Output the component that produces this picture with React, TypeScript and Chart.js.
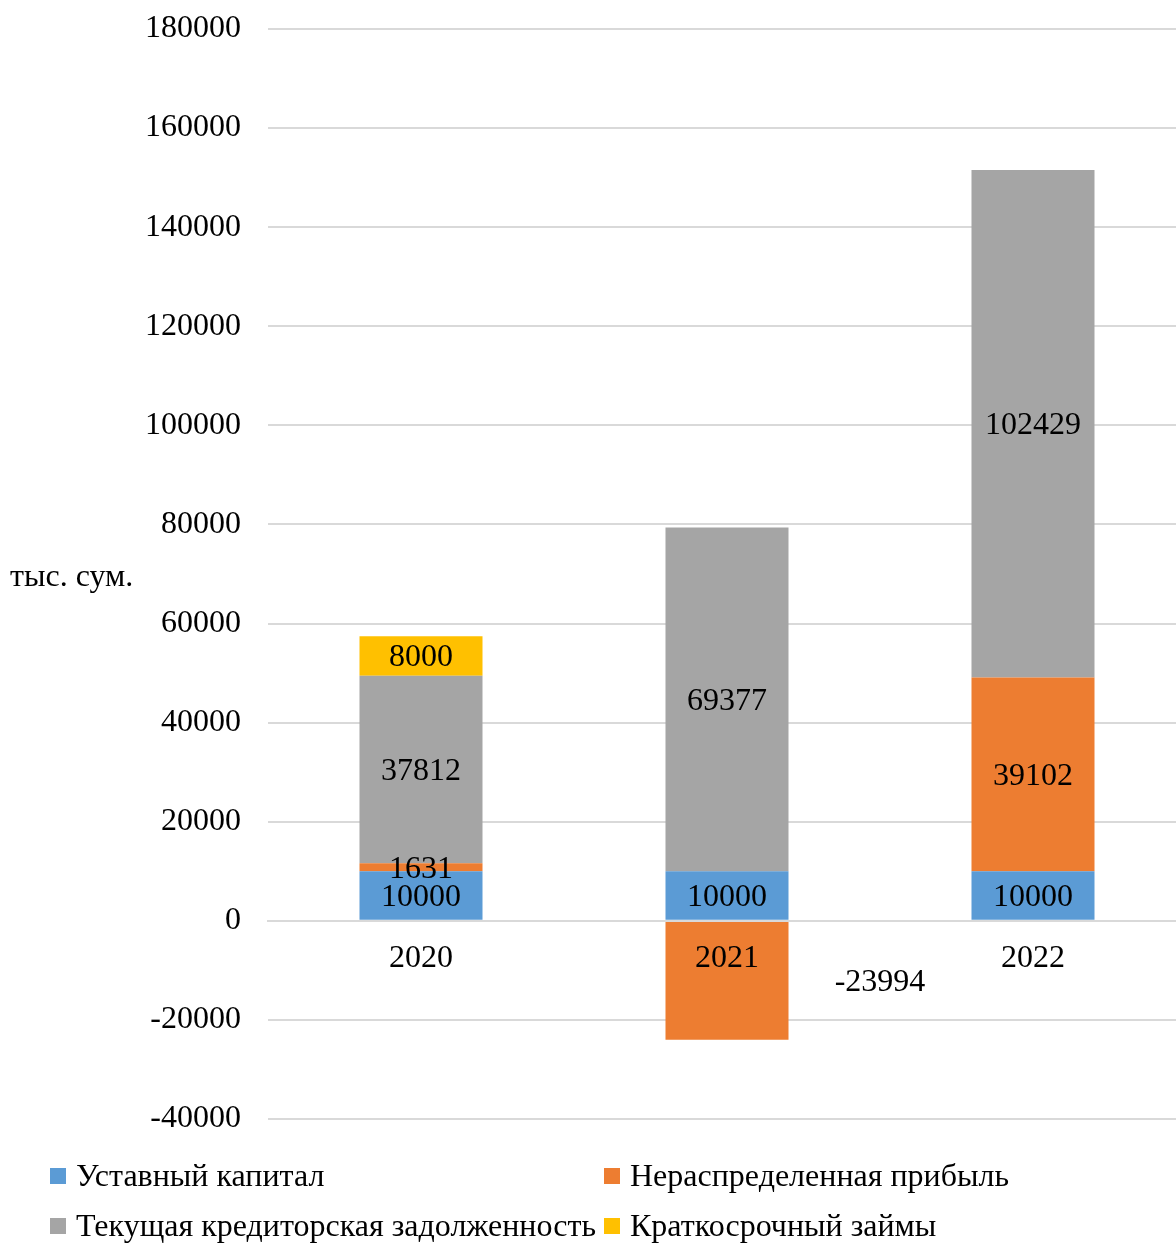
import React, { useEffect, useRef } from 'react';
import { Chart, registerables } from 'chart.js';

Chart.register(...registerables);

// ---- data ----
const categories = ['2020', '2021', '2022'];
const seriesNames = [
  'Уставный капитал',
  'Нераспределенная прибыль',
  'Текущая кредиторская задолженность',
  'Краткосрочный займы',
];
const ustavnyiKapital = [10000, 10000, 10000];
const nerasprPribyl = [1631, -23994, 39102];
const tekKreditor = [37812, 69377, 102429];
const kratkZaimy = [8000, 0, 0];
const seriesColors = ['#5B9BD5', '#ED7D31', '#A5A5A5', '#FFC000'];
const yAxisTitle = 'тыс. сум.';
const Y_MIN = -40000;
const Y_MAX = 180000;
const Y_STEP = 20000;

const FONT_FAMILY = "'Liberation Serif', 'Times New Roman', serif";
const FONT_SIZE = 32;
const FONT = `${FONT_SIZE}px ${FONT_FAMILY}`;
const GRID_COLOR = '#d9d9d9';

const CANVAS_W = 1196;
const CANVAS_H = 1243;

const segLabelsPlugin = {
  id: 'segLabels',
  afterDatasetsDraw(chart: any) {
    const ctx = chart.ctx;
    const xScale = chart.scales.x;
    ctx.save();
    ctx.font = FONT;
    ctx.fillStyle = '#000';
    ctx.textAlign = 'center';
    ctx.textBaseline = 'middle';
    chart.data.datasets.forEach((ds: any, di: number) => {
      const meta = chart.getDatasetMeta(di);
      meta.data.forEach((el: any, i: number) => {
        const v = ds.data[i];
        if (!v) return;
        const { x, y, base } = el.getProps(['x', 'y', 'base'], true);
        const cx = v < 0 ? xScale.getPixelForValue(i + 0.5) : x;
        ctx.fillText(String(v), cx, (y + base) / 2 + 2);
      });
    });
    ctx.restore();
  },
};

const extrasPlugin = {
  id: 'extras',
  afterDraw(chart: any) {
    const { ctx, chartArea } = chart;
    ctx.save();
    ctx.font = FONT;
    ctx.fillStyle = '#000';
    ctx.textAlign = 'left';
    ctx.textBaseline = 'middle';
    // horizontal y-axis title
    ctx.fillText(yAxisTitle, 10, (chartArea.top + chartArea.bottom) / 2 + 4);
    // two-column legend
    const cols = [50, 604];
    const rows = [chartArea.bottom + 57, chartArea.bottom + 107];
    chart.data.datasets.forEach((ds: any, i: number) => {
      const x = cols[i % 2];
      const y = rows[Math.floor(i / 2)];
      ctx.fillStyle = ds.backgroundColor;
      ctx.fillRect(x, y - 8, 16, 16);
      ctx.fillStyle = '#000';
      ctx.fillText(ds.label, x + 26, y + 2);
    });
    ctx.restore();
  },
};

export default function App() {
  const canvasRef = useRef<HTMLCanvasElement | null>(null);

  useEffect(() => {
    if (!canvasRef.current) return;
    const seriesData = [ustavnyiKapital, nerasprPribyl, tekKreditor, kratkZaimy];
    const chart = new Chart(canvasRef.current, {
      type: 'bar',
      data: {
        labels: categories,
        datasets: seriesNames.map((name, i) => ({
          label: name,
          data: seriesData[i],
          backgroundColor: seriesColors[i],
          borderWidth: 0,
          categoryPercentage: 1,
          barPercentage: 0.402,
        })),
      },
      options: {
        responsive: false,
        animation: false,
        devicePixelRatio: 1,
        layout: { padding: { top: 29, right: 10, bottom: CANVAS_H - 1119, left: 0 } },
        plugins: {
          legend: { display: false },
          tooltip: { enabled: false },
          title: { display: false },
        },
        scales: {
          x: {
            type: 'category',
            stacked: true,
            position: { y: 0 } as any,
            offset: true,
            grid: { display: false, drawTicks: false },
            border: { display: true, color: GRID_COLOR, width: 2, z: 1 },
            ticks: {
              color: '#000',
              font: { family: FONT_FAMILY, size: FONT_SIZE },
              padding: 19,
              maxRotation: 0,
              z: 1,
            },
          },
          y: {
            type: 'linear',
            stacked: true,
            min: Y_MIN,
            max: Y_MAX,
            grid: { color: GRID_COLOR, lineWidth: 2, drawTicks: false },
            border: { display: false },
            ticks: {
              stepSize: Y_STEP,
              color: '#000',
              font: { family: FONT_FAMILY, size: FONT_SIZE },
              padding: 27,
              callback: (v: any) => String(v),
            },
            afterFit: (scale: any) => {
              scale.width = 268;
              scale.paddingTop = 0;
              scale.paddingBottom = 0;
            },
          },
        },
      },
      plugins: [segLabelsPlugin, extrasPlugin],
    });
    return () => chart.destroy();
  }, []);

  return (
    <div
      style={{
        position: 'fixed',
        left: 0,
        top: 0,
        width: 1176,
        height: CANVAS_H,
        overflow: 'hidden',
        background: '#fff',
      }}
    >
      <canvas
        ref={canvasRef}
        width={CANVAS_W}
        height={CANVAS_H}
        style={{ display: 'block', width: CANVAS_W, height: CANVAS_H }}
      />
    </div>
  );
}
